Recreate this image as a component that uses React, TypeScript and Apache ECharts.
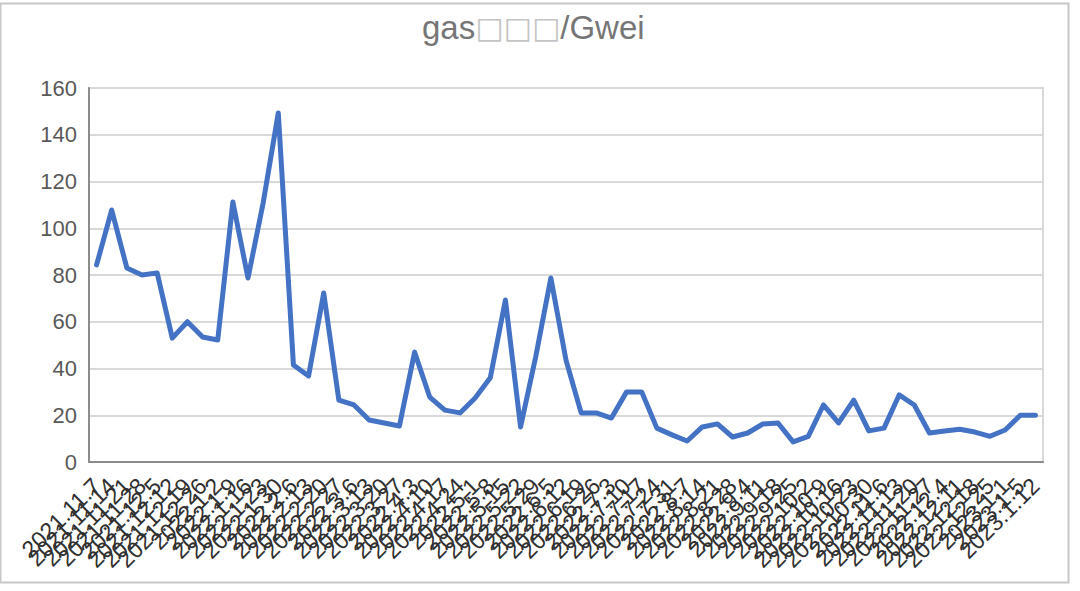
import React, { useEffect, useRef } from "react";
import * as echarts from "echarts";

const titleText = "gas{b|□□□}/Gwei";

const dates: string[] = [
  "2021.11.7", "2021.11.14", "2021.11.21", "2021.11.28", "2021.12.5", "2021.12.12", "2021.12.19", "2021.12.26",
  "2022.1.2", "2022.1.9", "2022.1.16", "2022.1.23", "2022.1.30", "2022.2.6", "2022.2.13", "2022.2.20",
  "2022.2.27", "2022.3.6", "2022.3.13", "2022.3.20", "2022.3.27", "2022.4.3", "2022.4.10", "2022.4.17",
  "2022.4.24", "2022.5.1", "2022.5.8", "2022.5.15", "2022.5.22", "2022.5.29", "2022.6.5", "2022.6.12",
  "2022.6.19", "2022.6.26", "2022.7.3", "2022.7.10", "2022.7.17", "2022.7.24", "2022.7.31", "2022.8.7",
  "2022.8.14", "2022.8.21", "2022.8.28", "2022.9.4", "2022.9.11", "2022.9.18", "2022.9.25", "2022.10.2",
  "2022.10.9", "2022.10.16", "2022.10.23", "2022.10.30", "2022.11.6", "2022.11.13", "2022.11.20", "2022.11.27",
  "2022.12.4", "2022.12.11", "2022.12.18", "2022.12.25", "2023.1.1", "2023.1.5", "2023.1.12",
];

const gasValues: number[] = [
  84.3, 107.8, 83, 80, 80.9, 53, 60, 53.5, 52.2, 111.2, 78.7, 110.8, 149.3, 41.5, 36.8, 72.3,
  26.5, 24.4, 18, 16.7, 15.4, 47, 27.8, 22.2, 21, 27.4, 36, 69.3, 15, 45, 78.7, 43.6,
  21, 21, 18.8, 30, 30, 14.5, 11.6, 9, 15, 16.3, 10.7, 12.4, 16.3, 16.7, 8.6, 11,
  24.4, 16.7, 26.5, 13.3, 14.5, 28.7, 24.4, 12.4, 13.3, 14, 12.8, 11, 13.7, 20, 20,
];

const yMin = 0;
const yMax = 160;
const yStep = 20;

export default function App() {
  const ref = useRef<HTMLDivElement>(null);

  useEffect(() => {
    if (!ref.current) return;
    const chart = echarts.init(ref.current, null, { renderer: "svg" });
    chart.setOption({
      animation: false,
      backgroundColor: "#ffffff",
      title: {
        text: titleText,
        left: 417,
        top: 6,
        textStyle: {
          fontSize: 33,
          fontWeight: "normal",
          color: "#767676",
          fontFamily: "Liberation Sans, Arial, sans-serif",
          rich: {
            b: {
              fontSize: 30,
              color: "#c4c4c4",
              fontFamily: "DejaVu Sans",
            },
          },
        },
      },
      graphic: [
        {
          type: "rect",
          shape: { x: 0.5, y: 3.5, width: 1068, height: 579 },
          style: { fill: "none", stroke: "#c8c8c8", lineWidth: 2 },
          silent: true,
          z: -1,
        },
      ],
      grid: {
        left: 89,
        right: 37,
        top: 88,
        bottom: 129,
        show: true,
        borderColor: "#d9d9d9",
        borderWidth: 2,
        containLabel: false,
      },
      xAxis: {
        type: "category",
        data: dates,
        boundaryGap: true,
        axisLine: { show: true, lineStyle: { color: "#8c8c8c", width: 2 } },
        axisTick: { show: false },
        axisLabel: {
          interval: 0,
          rotate: 45,
          fontSize: 23,
          color: "#303030",
          margin: 20,
          fontFamily: "Liberation Sans, Arial, sans-serif",
        },
        splitLine: { show: false },
      },
      yAxis: {
        type: "value",
        min: yMin,
        max: yMax,
        interval: yStep,
        axisLine: { show: true, lineStyle: { color: "#8c8c8c", width: 2 } },
        axisTick: { show: false },
        axisLabel: {
          fontSize: 22,
          color: "#595959",
          margin: 12,
          fontFamily: "Liberation Sans, Arial, sans-serif",
        },
        splitLine: { show: true, lineStyle: { color: "#d9d9d9", width: 2 } },
      },
      series: [
        {
          type: "line",
          data: gasValues,
          symbol: "none",
          lineStyle: { color: "#4472C4", width: 5, join: "round", cap: "round" },
        },
      ],
    });
    return () => chart.dispose();
  }, []);

  return (
    <div
      ref={ref}
      style={{ position: "absolute", left: 0, top: 0, width: 1080, height: 591 }}
    />
  );
}
